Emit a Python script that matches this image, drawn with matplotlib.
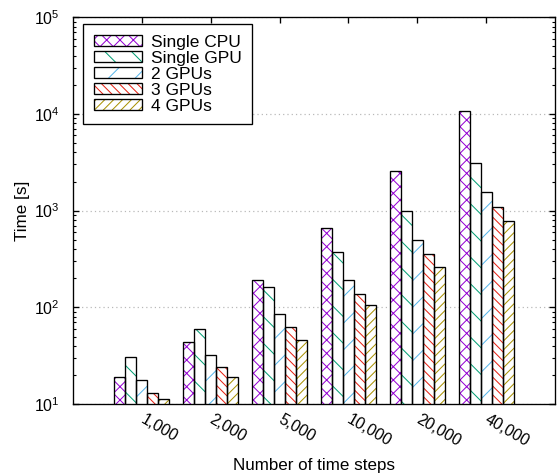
import matplotlib
matplotlib.use("Agg")
import matplotlib.pyplot as plt
import numpy as np
from matplotlib.ticker import FixedLocator, LogLocator, NullFormatter

plt.rcParams["font.family"] = ["Liberation Sans", "DejaVu Sans"]
plt.rcParams["mathtext.fontset"] = "custom"
plt.rcParams["mathtext.rm"] = "Liberation Sans"
plt.rcParams["hatch.linewidth"] = 0.9

steps = ["1,000", "2,000", "5,000", "10,000", "20,000", "40,000"]
series = ["Single CPU", "Single GPU", "2 GPUs", "3 GPUs", "4 GPUs"]
single_cpu = [19, 44, 190, 660, 2560, 10700]
single_gpu = [31, 60, 163, 370, 985, 3080]
gpus_2 = [17.6, 32, 85, 193, 500, 1550]
gpus_3 = [13.1, 24, 62, 136, 355, 1090]
gpus_4 = [11.2, 19.2, 46.5, 105, 263, 790]
times = [single_cpu, single_gpu, gpus_2, gpus_3, gpus_4]

colors = ["#9400d3", "#009e73", "#56b4e9", "#e51e10", "#a89000"]
hatches = ["xx", "\\", "/", "\\\\\\", "///"]

# 80 dpi keeps the hatch spacing close to gnuplot's patterns
fig = plt.figure(figsize=(557 / 80, 476 / 80), dpi=80)
ax = fig.add_axes([0.131, 0.151, 0.8654, 0.813])

x = np.arange(len(steps))
width = 0.16
handles = []
for i, (name, vals) in enumerate(zip(series, times)):
    pos = x + (i - 2) * width
    hb = ax.bar(pos, vals, width, color="white", edgecolor=colors[i],
                hatch=hatches[i], linewidth=0, zorder=2)
    ob = ax.bar(pos, vals, width, fill=False, edgecolor="black",
                linewidth=1.2, zorder=3)
    handles.append((hb.patches[0], ob.patches[0]))

ax.set_yscale("log")
ax.set_ylim(10, 1e5)
ax.set_xlim(-1, 6)

ax.yaxis.set_major_locator(LogLocator(base=10, numticks=10))
ax.yaxis.set_minor_locator(LogLocator(base=10, subs=np.arange(2, 10), numticks=10))
ax.yaxis.set_minor_formatter(NullFormatter())
ax.tick_params(axis="y", which="major", direction="in", length=5.4, width=1.2,
               right=True, labelsize=14.3, pad=12)
ax.tick_params(axis="y", which="minor", direction="in", length=2.7, width=1.0,
               right=True)

ax.xaxis.set_major_locator(FixedLocator(x))
ax.set_xticklabels(steps, rotation=-30, ha="left", va="center",
                   rotation_mode="anchor")
ax.tick_params(axis="x", which="major", direction="in", length=5.4, width=1.2,
               top=True, labelsize=14.3, pad=13)

ax.grid(axis="y", which="major", linestyle=(0, (1, 2.5)), color="#b8b8b8",
        linewidth=1.1, zorder=0)
ax.set_axisbelow(True)
for sp in ax.spines.values():
    sp.set_linewidth(1.2)
    sp.set_color("black")

ax.set_xlabel("Number of time steps", fontsize=15.3, labelpad=8)
ax.set_ylabel("Time [s]", fontsize=15.3, labelpad=3.5)

leg = ax.legend(handles, series, loc="upper left",
                bbox_to_anchor=(0.021, 0.982), borderaxespad=0,
                fontsize=15.7, handlelength=2.75, handleheight=0.55,
                handletextpad=0.55, labelspacing=0.06, borderpad=0.6,
                fancybox=False, framealpha=1, edgecolor="black")
leg.get_frame().set_linewidth(1.2)

fig.savefig("out.png", dpi=80)
